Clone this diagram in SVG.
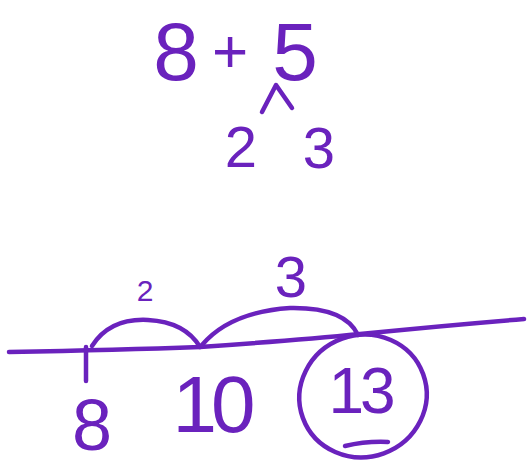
<svg xmlns="http://www.w3.org/2000/svg" width="531" height="466" viewBox="0 0 531 466">
<style>
.t{font-family:"Liberation Sans","DejaVu Sans",sans-serif;fill:#6a22bd;text-anchor:middle}
.s{fill:none;stroke:#6a22bd;stroke-width:4.5;stroke-linecap:round;stroke-linejoin:round}
</style>
<rect width="531" height="466" fill="#fff"/>
<g id="expression"><text class="t" y="80" font-size="82"><tspan x="176">8</tspan><tspan x="230" font-size="62" dy="-8">+</tspan><tspan x="295" dy="8">5</tspan></text></g>
<g id="part-2"><text class="t" x="241" y="167" font-size="58">2</text></g>
<g id="part-3"><text class="t" x="319" y="168" font-size="58">3</text></g>
<g id="jump-label-2"><text class="t" x="145" y="301" font-size="30">2</text></g>
<g id="jump-label-3"><text class="t" x="291" y="297" font-size="58">3</text></g>
<g id="tick-8"><text class="t" x="92" y="450" font-size="72">8</text></g>
<g id="tick-10"><text class="t" x="211" y="432" font-size="80" letter-spacing="-6">10</text></g>
<g id="tick-13"><text class="t" x="360" y="413" font-size="64" letter-spacing="-4">13</text>
<ellipse class="s" cx="363" cy="396" rx="64" ry="61" transform="rotate(-20 363 396)"/>
<path class="s" d="M345 446 Q366 441 388 442"/></g>
<g id="connectors">
<path class="s" d="M262 112 L276 85 L292 108"/>
<path class="s" d="M9 352 Q120 350 200 347 Q300 340 360 334 Q450 325 524 319"/>
<path class="s" d="M86 347 L86 381"/>
<path class="s" d="M92 346 Q110 318 148 320 Q185 322 200 347"/>
<path class="s" d="M202 345 Q230 312 290 308 Q345 307 358 335"/>
</g>
</svg>
